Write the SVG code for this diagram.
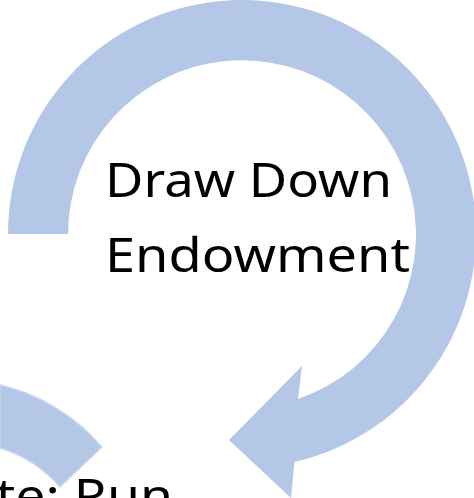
<svg xmlns="http://www.w3.org/2000/svg" width="474" height="498" viewBox="0 0 474 498">
  <style>
    .arrow { fill: #B4C7E7; }
    .soft { stroke: #CCD8EF; stroke-width: 1.5; }
    .label { font-family: "Noto Sans", "Open Sans", "Liberation Sans", sans-serif; font-size: 47.5px; fill: #000000; }
  </style>
  <rect width="474" height="498" fill="#FFFFFF"/>
  <g id="node-run">
    <path class="arrow soft" d="M 0,385 A 190 190 0 0 1 102,447 L 60,487 A 132 132 0 0 0 0,448 Z"/>
    <text class="label" x="-4" y="513" textLength="177" lengthAdjust="spacingAndGlyphs">te: Run</text>
  </g>
  <g id="node-draw-down">
    <path class="arrow" d="M 8,234 A 234 234 0 1 1 294.5,462 L 291,498 L 229,440 L 302,366 L 298,399 A 174 174 0 1 0 68,234 Z"/>
    <text class="label" x="105" y="196.7" textLength="287" lengthAdjust="spacingAndGlyphs">Draw Down</text>
    <text class="label" x="105" y="271.7" textLength="305" lengthAdjust="spacingAndGlyphs">Endowment</text>
  </g>
</svg>
